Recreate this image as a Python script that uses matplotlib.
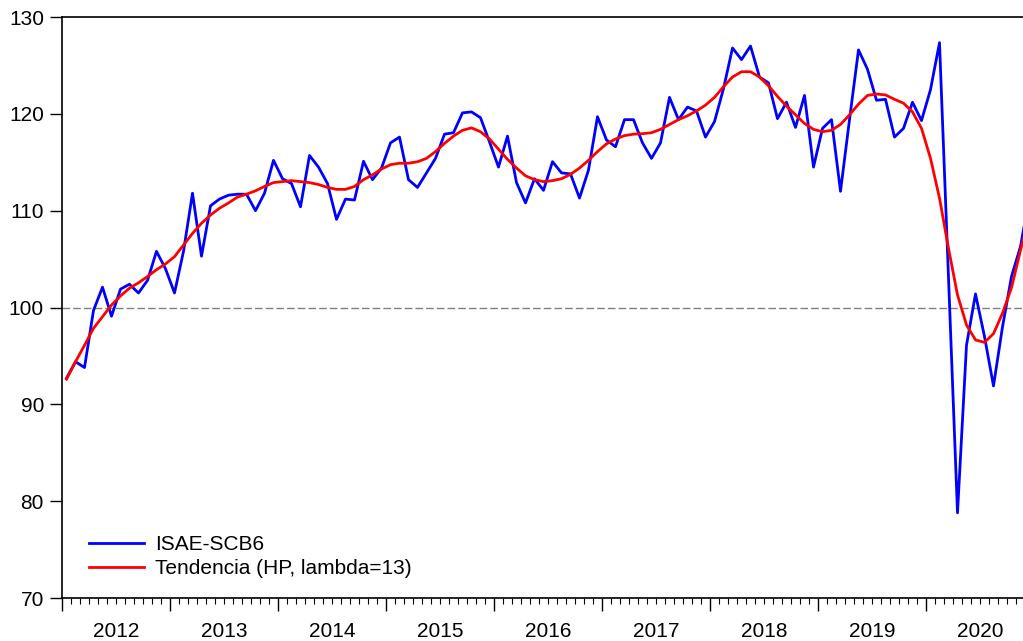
import numpy as np
import matplotlib
matplotlib.use("Agg")
import matplotlib.pyplot as plt

plt.rcParams['font.family'] = ['Liberation Sans', 'DejaVu Sans']

# monthly values, Jan 2012 - Dec 2020
years = [2012, 2013, 2014, 2015, 2016, 2017, 2018, 2019, 2020]

isae = [92.7, 94.4, 93.8, 99.7, 102.1, 99.1, 101.9, 102.4, 101.5, 102.8, 105.8, 104.0,
        101.5, 105.8, 111.8, 105.3, 110.5, 111.2, 111.6, 111.7, 111.7, 110.0, 111.8, 115.2,
        113.3, 112.8, 110.4, 115.7, 114.5, 112.8, 109.1, 111.2, 111.1, 115.1, 113.2, 114.4,
        117.0, 117.6, 113.2, 112.4, 113.9, 115.4, 117.9, 118.05, 120.1, 120.2, 119.6, 117.1,
        114.5, 117.7, 112.9, 110.8, 113.3, 112.1, 115.06, 113.9, 113.8, 111.3, 114.2, 119.7,
        117.3, 116.6, 119.4, 119.4, 117.0, 115.4, 117.0, 121.7, 119.4, 120.7, 120.3, 117.6,
        119.2, 122.6, 126.8, 125.6, 127.0, 123.8, 123.2, 119.5, 121.2, 118.6, 121.9, 114.5,
        118.5, 119.4, 112.0, 119.4, 126.6, 124.6, 121.4, 121.5, 117.6, 118.5, 121.2, 119.3,
        122.5, 127.35, 103.1, 78.8, 96.1, 101.4, 97.0, 91.9, 98.0, 103.2, 106.3, 111.5]

tendencia = [92.6, 94.4, 96.1, 97.85, 99.05, 100.25, 101.2, 102.0, 102.55, 103.2, 103.9, 104.5,
             105.25, 106.45, 107.65, 108.7, 109.55, 110.25, 110.8, 111.4, 111.7, 112.05, 112.5, 112.9,
             113.0, 113.1, 113.0, 112.9, 112.7, 112.4, 112.2, 112.2, 112.5, 113.2, 113.7, 114.3,
             114.75, 114.9, 114.9, 115.05, 115.4, 116.1, 116.95, 117.7, 118.3, 118.55, 118.15, 117.4,
             116.35, 115.3, 114.4, 113.6, 113.2, 113.0, 113.1, 113.3, 113.75, 114.4, 115.2, 116.1,
             116.9, 117.4, 117.75, 117.9, 117.95, 118.05, 118.4, 118.9, 119.4, 119.8, 120.3, 120.9,
             121.7, 122.8, 123.8, 124.35, 124.35, 123.8, 122.9, 121.8, 120.8, 119.9, 119.0, 118.4,
             118.15, 118.3, 118.9, 119.9, 121.0, 121.9, 122.05, 121.95, 121.5, 121.1, 120.2, 118.5,
             115.4, 111.3, 106.1, 101.3, 98.2, 96.65, 96.4, 97.3, 99.4, 102.05, 105.9, 109.3]

n = len(isae)
x = np.arange(n) + 0.5  # points at the middle of each month

fig = plt.figure(figsize=(10.23, 6.41), dpi=100)
# plot area runs a bit past the right edge of the picture (cropped like the original)
ax = fig.add_axes([62/1023, 43/641, 972/1023, 581/641])

ax.axhline(100, color='#808080', lw=1.0, dashes=(5.5, 2.2), zorder=1)
ax.plot(x, isae, color='#0000ff', lw=2.0, label='ISAE-SCB6', zorder=2)
ax.plot(x, tendencia, color='#ff0000', lw=2.0, label='Tendencia (HP, lambda=13)', zorder=3)

ax.set_xlim(0, 12*len(years))
ax.set_ylim(70, 130)
ax.set_yticks(np.arange(70, 131, 10))

# year boundaries as major ticks, months as minor ticks
ax.set_xticks(np.arange(0, 12*len(years)+1, 12))
ax.set_xticklabels([])
ax.set_xticks(np.arange(0, 12*len(years)+1, 1), minor=True)
ax.tick_params(axis='x', which='major', direction='out', length=9.5, width=1.0)
ax.tick_params(axis='x', which='minor', direction='out', length=4.5, width=0.8)
ax.tick_params(axis='y', direction='out', length=9, width=1.0, pad=4, labelsize=15)
for k, yr in enumerate(years):
    ax.text(12*k + 6, -0.057, str(yr), transform=ax.get_xaxis_transform(),
            ha='center', va='center', fontsize=15)

for s in ax.spines.values():
    s.set_linewidth(1.2)

ax.legend(loc='upper left', bbox_to_anchor=(0.028, 0.108), frameon=False,
          fontsize=15, handlelength=2.65, handletextpad=0.5, labelspacing=0.25,
          borderpad=0, borderaxespad=0)

fig.savefig('out.png', dpi=100)
